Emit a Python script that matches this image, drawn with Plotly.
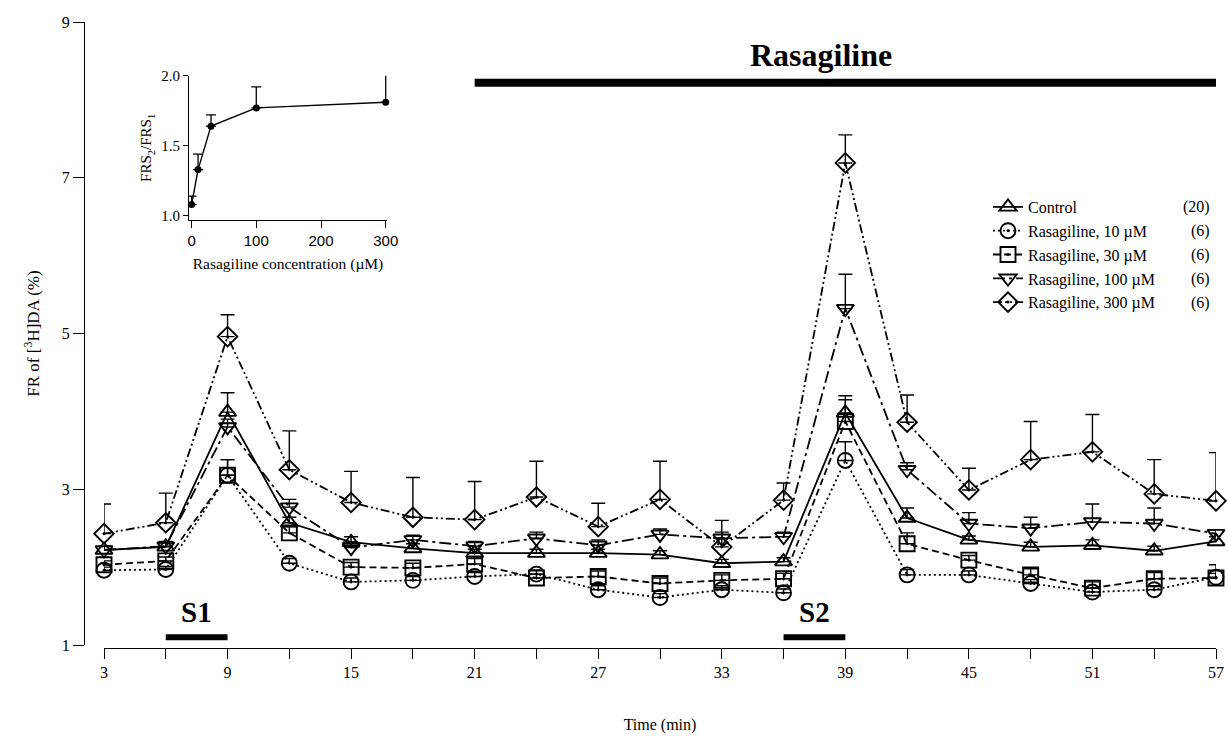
import plotly.graph_objects as go

# ---------------- data ----------------
time_min = [3, 6, 9, 12, 15, 18, 21, 24, 27, 30, 33, 36, 39, 42, 45, 48, 51, 54, 57]
x_label_ticks = [3, 9, 15, 21, 27, 33, 39, 45, 51, 57]
y_ticks = [1, 3, 5, 7, 9]

control = [2.22, 2.26, 3.99, 2.57, 2.32, 2.24, 2.18, 2.18, 2.18, 2.16, 2.05, 2.07, 3.98, 2.63, 2.35, 2.26, 2.28, 2.21, 2.33]
control_err = [0.05, 0.05, 0.25, 0.07, 0.07, 0.06, 0.05, 0.05, 0.05, 0.05, 0.05, 0.05, 0.22, 0.13, 0.05, 0.06, 0.07, 0.06, 0.06]

ras10 = [1.96, 1.97, 3.18, 2.05, 1.81, 1.83, 1.88, 1.91, 1.71, 1.61, 1.71, 1.67, 3.37, 1.90, 1.90, 1.79, 1.68, 1.71, 1.87]
ras10_err = [0.04, 0.04, 0.20, 0.06, 0.05, 0.05, 0.05, 0.05, 0.05, 0.05, 0.05, 0.05, 0.24, 0.07, 0.05, 0.05, 0.05, 0.05, 0.05]

ras30 = [2.03, 2.08, 3.18, 2.44, 2.00, 1.99, 2.04, 1.86, 1.88, 1.79, 1.83, 1.85, 3.87, 2.30, 2.09, 1.90, 1.73, 1.85, 1.86]
ras30_err = [0.05, 0.05, 0.20, 0.08, 0.06, 0.06, 0.07, 0.05, 0.07, 0.07, 0.07, 0.07, 0.28, 0.14, 0.06, 0.08, 0.08, 0.08, 0.17]

ras100 = [2.22, 2.27, 3.80, 2.77, 2.25, 2.35, 2.27, 2.37, 2.28, 2.42, 2.37, 2.39, 5.32, 3.25, 2.56, 2.50, 2.58, 2.56, 2.43]
ras100_err = [0.05, 0.06, 0.10, 0.10, 0.07, 0.06, 0.06, 0.08, 0.07, 0.07, 0.08, 0.06, 0.44, 0.09, 0.14, 0.14, 0.23, 0.20, 0.05]

ras300 = [2.43, 2.57, 4.96, 3.25, 2.83, 2.64, 2.61, 2.90, 2.52, 2.87, 2.26, 2.86, 7.19, 3.86, 2.99, 3.38, 3.48, 2.94, 2.85]
ras300_err = [0.38, 0.38, 0.28, 0.50, 0.40, 0.51, 0.49, 0.46, 0.30, 0.49, 0.34, 0.22, 0.36, 0.35, 0.28, 0.49, 0.48, 0.44, 0.62]

series_names = ["Control", "Rasagiline, 10 µM", "Rasagiline, 30 µM", "Rasagiline, 100 µM", "Rasagiline, 300 µM"]
series_n = ["(20)", "(6)", "(6)", "(6)", "(6)"]

# inset data
inset_conc = [0, 10, 30, 100, 300]
inset_ratio = [1.08, 1.33, 1.64, 1.77, 1.81]
inset_err = [0.06, 0.11, 0.08, 0.15, 0.20]
inset_xticks = [0, 100, 200, 300]
inset_yticks = [1.0, 1.5, 2.0]

# stimulation / drug periods (min)
s1_period = [6, 9]
s2_period = [36, 39]
drug_period = [21, 57]

# ---------------- styling ----------------
SERIF = "Liberation Serif"
SANS = "Liberation Sans"
styles = [
    dict(symbol="triangle-up-open", dash="solid"),
    dict(symbol="circle-open-dot", dash="2px,3px"),
    dict(symbol="square-open-dot", dash="7px,4px"),
    dict(symbol="triangle-down-open", dash="12px,4px,3px,4px"),
    dict(symbol="diamond-open-dot", dash="9px,3px,2px,3px,2px,3px"),
]
values = [control, ras10, ras30, ras100, ras300]
errors = [control_err, ras10_err, ras30_err, ras100_err, ras300_err]

fig = go.Figure()
for name, vals, errs, st in zip(series_names, values, errors, styles):
    fig.add_trace(go.Scatter(
        x=time_min, y=vals, name=name, mode="lines+markers",
        line=dict(color="black", width=1.8, dash=st["dash"]),
        marker=dict(symbol=st["symbol"], size=15, color="black",
                    line=dict(color="black", width=1.9)),
        error_y=dict(type="data", array=errs, arrayminus=[0] * len(errs),
                     symmetric=False, color="black", thickness=1.4, width=7),
        cliponaxis=False,
    ))

fig.add_trace(go.Scatter(
    x=inset_conc, y=inset_ratio, mode="lines+markers", showlegend=False,
    xaxis="x2", yaxis="y2",
    line=dict(color="black", width=1.4),
    marker=dict(symbol="circle", size=7, color="black"),
    error_y=dict(type="data", array=inset_err, arrayminus=[0] * len(inset_err),
                 symmetric=False, color="black", thickness=1.3, width=5),
    cliponaxis=False,
))

# geometry: body margin is removed by the post script, figure fills the window
FW, FH = 1228, 736
L, R, T, B = 84, 12, 22, 88
W, H = FW - L - R, FH - T - B


def px(c):
    """window pixel column -> paper fraction"""
    return (c - L) / W


def py(c):
    """window pixel row -> paper fraction"""
    return (FH - B - c) / H


x_dom0 = px(104)
y_dom0 = py(645)

shapes = []
for (a, b), yv, lw in [(s1_period, 1.1, 6), (s2_period, 1.1, 6), (drug_period, 8.22, 8)]:
    shapes.append(dict(type="line", xref="x", yref="y", x0=a, x1=b, y0=yv, y1=yv,
                       line=dict(color="black", width=lw)))

annotations = [
    dict(x=sum(s1_period) / 2, y=1.42, xref="x", yref="y", text="<b>S1</b>",
         showarrow=False, font=dict(family=SERIF, size=29, color="black")),
    dict(x=sum(s2_period) / 2, y=1.42, xref="x", yref="y", text="<b>S2</b>",
         showarrow=False, font=dict(family=SERIF, size=29, color="black")),
    dict(x=37.8, y=8.58, xref="x", yref="y", text="<b>Rasagiline</b>",
         showarrow=False, font=dict(family=SERIF, size=32, color="black")),
]
row0, row_gap = 207, 24
for i, n in enumerate(series_n):
    annotations.append(dict(x=px(1212), y=py(row0 + i * row_gap), xref="paper", yref="paper",
                            text=n, showarrow=False, xanchor="right", yanchor="middle",
                            font=dict(family=SERIF, size=16, color="black")))

axis_common = dict(showgrid=False, zeroline=False, showline=True, linecolor="black",
                   tickcolor="black", automargin=False)

fig.update_layout(
    width=FW, height=FH,
    margin=dict(l=L, r=R, t=T, b=B),
    paper_bgcolor="white", plot_bgcolor="white",
    font=dict(family=SERIF, size=16, color="black"),
    showlegend=True,
    legend=dict(x=px(988), y=py(190), xanchor="left", yanchor="top",
                bgcolor="rgba(0,0,0,0)", font=dict(family=SERIF, size=16, color="black"),
                tracegroupgap=0, itemwidth=30),
    xaxis=dict(domain=[x_dom0, 1], range=[3, 57], tickvals=x_label_ticks,
               linewidth=1.2, ticks="outside", ticklen=10, tickwidth=1.2,
               ticklabeloverflow="allow",
               minor=dict(tick0=3, dtick=3, ticks="outside", ticklen=10, tickwidth=1.2, tickcolor="black"),
               anchor="free", position=0,
               title=dict(text="Time (min)", font=dict(family=SERIF, size=16), standoff=38),
               tickfont=dict(family=SERIF, size=16), **axis_common),
    yaxis=dict(domain=[y_dom0, 1], range=[1, 9], tickvals=y_ticks,
               linewidth=1.2, ticks="outside", ticklen=11, tickwidth=1.2,
               anchor="free", position=0,
               title=dict(text="FR of [<sup>3</sup>H]DA (%)", font=dict(family=SERIF, size=17), standoff=16),
               tickfont=dict(family=SERIF, size=16), **axis_common),
    xaxis2=dict(domain=[px(189), px(387)], range=[-4, 302], tickvals=inset_xticks,
                anchor="y2", linewidth=1.2, ticks="outside", ticklen=7,
                tickfont=dict(family=SANS, size=15),
                title=dict(text="Rasagiline concentration (µM)", font=dict(family=SERIF, size=15.5), standoff=10),
                **axis_common),
    yaxis2=dict(domain=[py(220), py(75.7)], range=[0.97, 2.0], tickvals=inset_yticks,
                tickformat=".1f", anchor="x2", linewidth=1.2, ticks="outside", ticklen=5,
                tickfont=dict(family=SERIF, size=15),
                title=dict(text="FRS<sub>2</sub>/FRS<sub>1</sub>", font=dict(family=SERIF, size=15), standoff=5),
                **axis_common),
    shapes=shapes,
    annotations=annotations,
)

fig.write_html("out.html",
               config={"displayModeBar": False},
               post_script="document.body.style.margin='0px';document.body.style.overflow='hidden';")
